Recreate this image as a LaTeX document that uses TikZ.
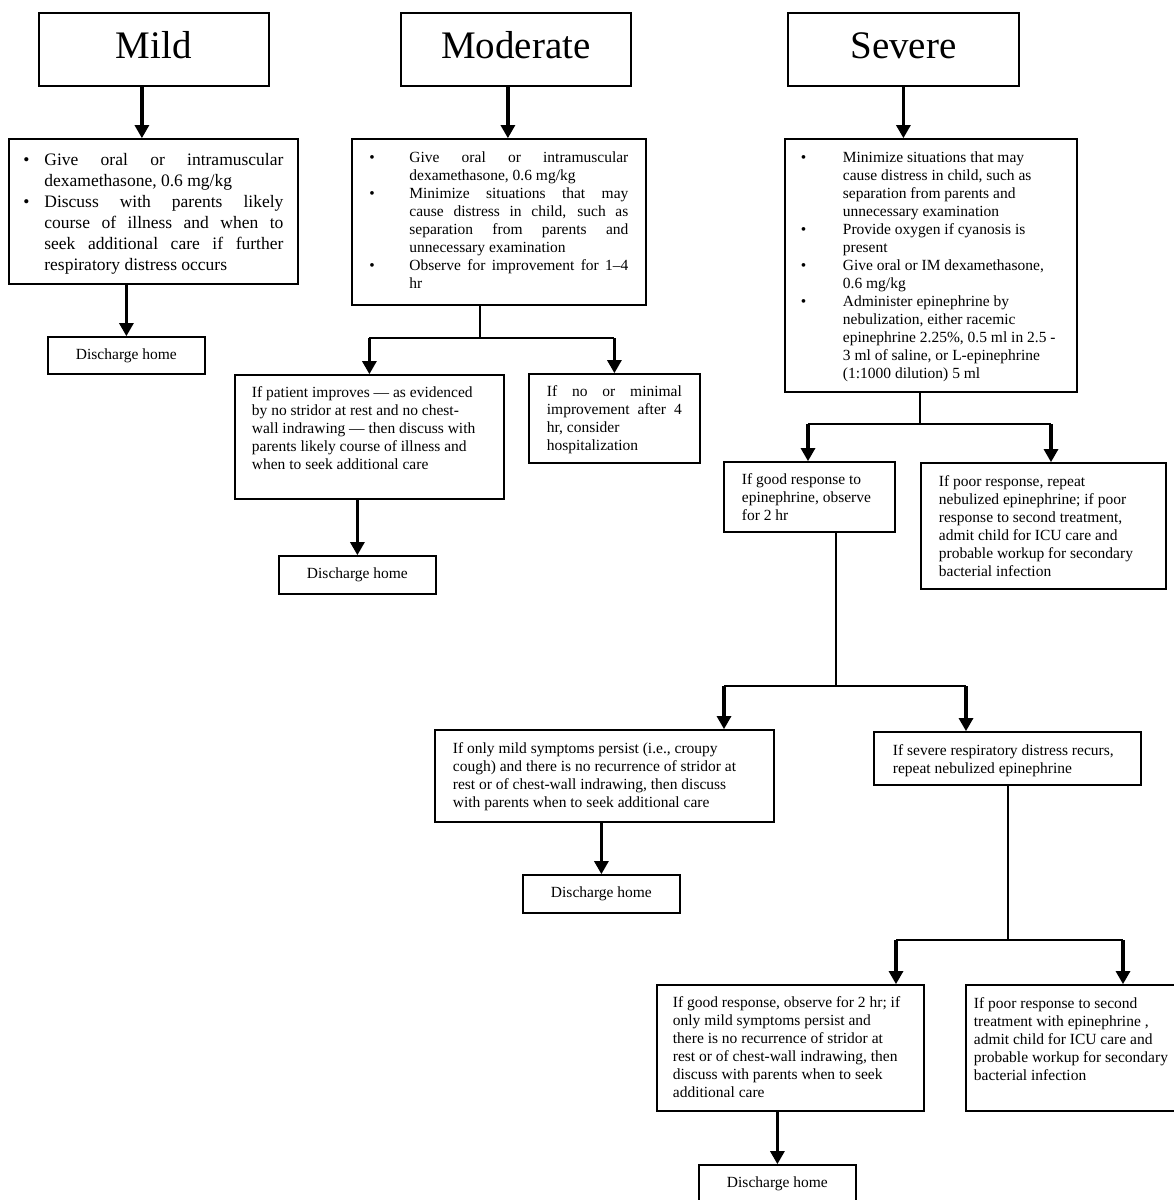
\documentclass[tikz,border=0pt]{standalone}
\usepackage{fontspec}
\setmainfont{Liberation Serif}
\usetikzlibrary{arrows.meta}
\tolerance=10000
\hbadness=10000
\hyphenpenalty=10000

\begin{document}
\begin{tikzpicture}[x=1pt,y=-1pt,>={Triangle[length=13pt,width=15pt,line width=0pt]},
  box/.style={draw,line width=1.8pt,anchor=north west,inner ysep=0pt,font=\fontsize{15.5}{18}\selectfont},
  lft/.style={box,align=flush left},
  jst/.style={box,align=justify},
  head/.style={draw,line width=1.8pt,anchor=north west,minimum width=230pt,minimum height=73pt,inner sep=0pt,text height=27pt,text depth=8pt,font=\fontsize{39}{44}\selectfont},
  home/.style={draw,line width=1.8pt,anchor=north west,minimum width=157pt,minimum height=38pt,inner sep=0pt,font=\fontsize{15.5}{18}\selectfont},
  con/.style={line width=1.7pt},
  arr/.style={->,line width=3.6pt}]
\path[use as bounding box,fill=white] (0,0) rectangle (1174,1200);

\def\bul#1{\noindent\hangindent=#1\hangafter=1\hbox to #1{\textbullet\hss}\ignorespaces}

\node[head] (mildtitle) at (38,12) {Mild};
\node[head] (modtitle) at (400,12) {Moderate};
\node[head,minimum width=231pt] (sevtitle) at (787,12) {Severe};

% mild
\node[jst,font=\fontsize{17.5}{21}\selectfont,text width=260pt,inner xsep=14.5pt,text height=27pt,text depth=118pt] (mildbody) at (8,138) {\bul{21pt}Give oral or intramuscular\linebreak dexamethasone, 0.6 mg/kg\par
\bul{21pt}Discuss with parents likely\linebreak course of illness and when to\linebreak seek additional care if further\linebreak respiratory distress occurs\par};
\node[home,minimum height=37pt] (mildhome) at (47,336) {Discharge home};

% moderate
\node[jst,text width=259pt,inner xsep=17.5pt,text height=24pt,text depth=142pt] (modbody) at (351,138) {\bul{40pt}Give oral or intramuscular\linebreak dexamethasone, 0.6 mg/kg\par
\bul{40pt}Minimize situations that may\linebreak cause distress in child, such as\linebreak separation from parents and\linebreak unnecessary examination\par
\bul{40pt}Observe for improvement for 1–4\linebreak hr\par};
\node[lft,text width=235pt,inner xsep=17pt,text height=23pt,text depth=101pt] (modbetter) at (234,374) {If patient improves — as evidenced\newline by no stridor at rest and no chest-\newline wall indrawing — then discuss with\newline parents likely course of illness and\newline when to seek additional care};
\node[jst,text width=135pt,inner xsep=18pt,text height=23pt,text depth=66pt] (modnone) at (528,373) {If no or minimal\linebreak improvement after 4\linebreak hr, consider\par hospitalization};
\node[home] (modhome) at (278,555) {Discharge home};

% severe
\node[lft,text width=260pt,inner xsep=16pt,text height=24pt,text depth=229pt] (sevbody) at (784,138) {\bul{42pt}Minimize situations that may\newline cause distress in child, such as\newline separation from parents and\newline unnecessary examination\par
\bul{42pt}Provide oxygen if cyanosis is\newline present\par
\bul{42pt}Give oral or IM dexamethasone,\newline 0.6 mg/kg\par
\bul{42pt}Administer epinephrine by\newline nebulization, either racemic\newline epinephrine 2.25\%, 0.5 ml in 2.5 -\newline 3 ml of saline, or L-epinephrine\newline (1:1000 dilution) 5 ml\par};
\node[lft,text width=135pt,inner xsep=18pt,text height=23pt,text depth=47pt] (sevgood) at (723,461) {If good response to\newline epinephrine, observe\newline for 2 hr};
\node[lft,text width=209pt,inner xsep=18pt,text height=24pt,text depth=102pt] (sevpoor) at (920,462) {If poor response, repeat\newline nebulized epinephrine; if poor\newline response to second treatment,\newline admit child for ICU care and\newline probable workup for secondary\newline bacterial infection};
\node[lft,text width=303pt,inner xsep=18pt,text height=24pt,text depth=68pt] (midmild) at (434,729) {If only mild symptoms persist (i.e., croupy\newline cough) and there is no recurrence of stridor at\newline rest or of chest-wall indrawing, then discuss\newline with parents when to seek additional care};
\node[home] (midhome) at (522,874) {Discharge home};
\node[lft,text width=229pt,inner xsep=19pt,text height=24pt,text depth=29pt] (sevrecur) at (873,731) {If severe respiratory distress recurs,\newline repeat nebulized epinephrine};
\node[lft,text width=235pt,inner xsep=16pt,text height=23pt,text depth=103pt] (lowgood) at (656,984) {If good response, observe for 2 hr; if\newline only mild symptoms persist and\newline there is no recurrence of stridor at\newline rest or of chest-wall indrawing, then\newline discuss with parents when to seek\newline additional care};
\node[lft,text width=199pt,inner xsep=8pt,text height=24pt,text depth=102pt] (lowpoor) at (965,984) {If poor response to second\newline treatment with epinephrine ,\newline admit child for ICU care and\newline probable workup for secondary\newline bacterial infection};
\node[home] (lowhome) at (698,1164) {Discharge home};

% mild arrows
\draw[arr] ([xshift=-12pt]mildtitle.south) -- ([xshift=-12pt]mildtitle.south |- mildbody.north);
\draw[arr] (mildbody.south -| mildhome.north) -- (mildhome.north);

% moderate arrows
\coordinate (modsplit) at (480,338);
\draw[arr] ([xshift=-8pt]modtitle.south) -- ([xshift=-8pt]modtitle.south |- modbody.north);
\draw[con] (modbody.south -| modsplit) -- (modsplit);
\draw[con] (modbetter.north |- modsplit) -- (modnone.north |- modsplit);
\draw[arr] (modbetter.north |- modsplit) -- (modbetter.north);
\draw[arr] (modnone.north |- modsplit) -- (modnone.north);
\draw[arr] (modbetter.south -| modhome.north) -- (modhome.north);

% severe arrows
\coordinate (sevsplit) at (920,424);
\coordinate (sevl) at (808,424);
\coordinate (sevr) at (1051,424);
\draw[arr] (sevtitle.south) -- (sevtitle.south |- sevbody.north);
\draw[con] (sevbody.south -| sevsplit) -- (sevsplit);
\draw[con] (sevl) -- (sevr);
\draw[arr] (sevl) -- (sevl |- sevgood.north);
\draw[arr] (sevr) -- (sevr |- sevpoor.north);

\coordinate (goodsplit) at (836,686);
\coordinate (goodl) at (724,686);
\coordinate (goodr) at (966,686);
\draw[con] (sevgood.south -| goodsplit) -- (goodsplit);
\draw[con] (goodl) -- (goodr);
\draw[arr] (goodl) -- (goodl |- midmild.north);
\draw[arr] (goodr) -- (goodr |- sevrecur.north);
\draw[arr] (midmild.south -| midhome.north) -- (midhome.north);

\coordinate (recsplit) at (1008,940);
\coordinate (recl) at (896,940);
\coordinate (recr) at (1123,940);
\draw[con] (sevrecur.south -| recsplit) -- (recsplit);
\draw[con] (recl) -- (recr);
\draw[arr] (recl) -- (recl |- lowgood.north);
\draw[arr] (recr) -- (recr |- lowpoor.north);
\draw[arr] (lowgood.south -| lowhome.north) -- (lowhome.north);

\end{tikzpicture}
\end{document}
